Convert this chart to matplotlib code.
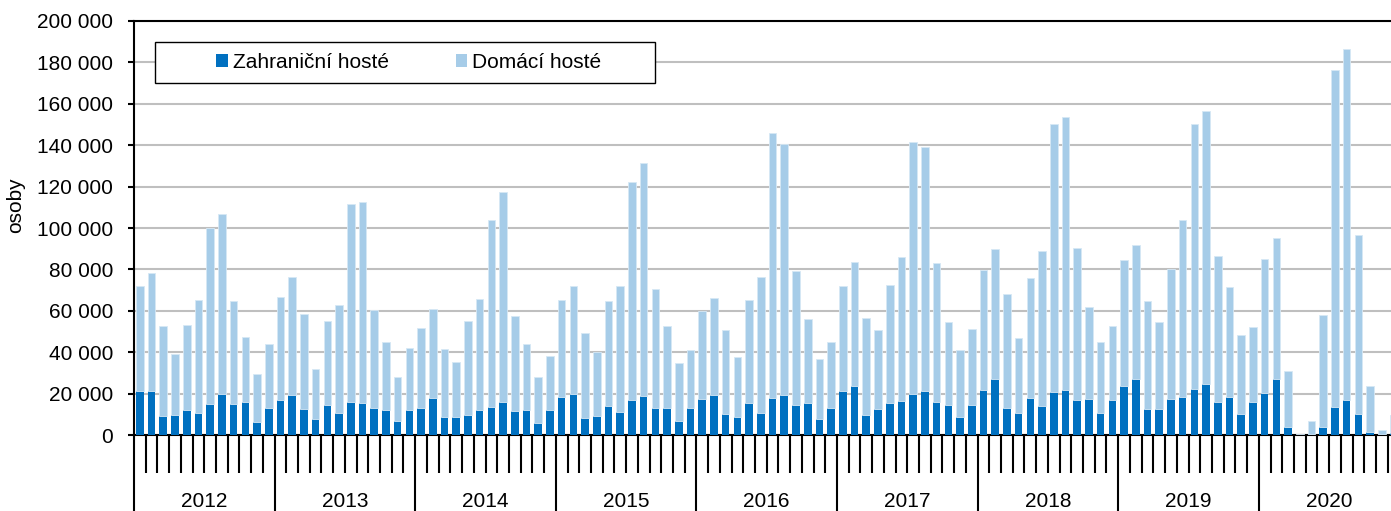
import numpy as np
import matplotlib.pyplot as plt
from matplotlib.patches import Rectangle
from matplotlib.transforms import blended_transform_factory

plt.rcParams['font.family'] = ['Liberation Sans', 'DejaVu Sans']

years = ['2012', '2013', '2014', '2015', '2016', '2017', '2018', '2019', '2020']

# zahraniční hosté (osoby), měsíčně leden 2012 - prosinec 2020
zahranicni = [
    21200, 21200, 9200, 9700, 12100, 10600, 15000, 19800, 14800, 15900, 6100, 13000,
    16900, 19300, 12700, 7900, 14500, 10800, 15900, 15600, 12900, 12100, 6800, 12100,
    12900, 17900, 8700, 8700, 9700, 12100, 13400, 16100, 11600, 12100, 5800, 11900,
    18300, 19800, 8000, 9200, 14000, 11300, 17100, 18800, 12900, 13200, 6600, 13200,
    17200, 19100, 10100, 8500, 15400, 10800, 17700, 19100, 14300, 15300, 7600, 13200,
    21100, 23500, 9700, 12400, 15300, 16400, 19600, 21100, 15800, 14300, 8700, 14500,
    21600, 26900, 13000, 10800, 17700, 14200, 20900, 21900, 16700, 17400, 10500, 16700,
    23800, 26900, 12400, 12600, 17200, 18400, 22400, 24500, 15800, 18400, 10000, 15800,
    20100, 26900, 3700, 200, 400, 3700, 13700, 16900, 10000, 1300, 300, 1000,
]

# hosté celkem (vrchol sloupce)
celkem = [
    72200, 78200, 52500, 39300, 52900, 65200, 100100, 107000, 64700, 47300, 29400, 44200,
    66900, 76400, 58400, 31900, 55000, 62900, 111800, 112600, 60300, 45100, 28000, 41800,
    51500, 60800, 41700, 35400, 55000, 65500, 103900, 117300, 57400, 43900, 27800, 38300,
    65200, 72200, 49200, 40200, 64800, 72100, 122400, 131500, 70600, 52800, 34900, 41200,
    59900, 66100, 50500, 37800, 65300, 76400, 145800, 140600, 79000, 56000, 36800, 45100,
    72200, 83700, 56500, 50500, 72700, 86100, 141400, 139200, 82900, 54500, 40900, 51300,
    79500, 89800, 67900, 46700, 75700, 89000, 150400, 153600, 90200, 62000, 44900, 52800,
    84500, 91900, 64900, 54700, 80300, 103700, 150200, 156700, 86500, 71600, 48100, 52300,
    84800, 95300, 30900, 300, 6600, 58000, 176300, 186400, 96400, 23500, 2300, 9500,
]

domaci = [c - z for c, z in zip(celkem, zahranicni)]

c_zahr = '#0070C0'
c_dom = '#A6CCE8'

fig = plt.figure(figsize=(13.91, 5.11), dpi=100)
ax = fig.add_axes([134 / 1391, 76 / 511, 1265.4 / 1391, 414 / 511])

x = np.arange(len(celkem))
ax.bar(x, zahranicni, width=0.65, color=c_zahr, label='Zahraniční hosté', zorder=3)
ax.bar(x, domaci, width=0.65, bottom=zahranicni, color=c_dom, label='Domácí hosté',
       edgecolor='#D6E8F5', linewidth=0.6, zorder=3)

ax.set_xlim(-0.5, len(celkem) - 0.5)
ax.set_ylim(0, 200000)
yt = np.arange(0, 200001, 20000)
ax.set_yticks(yt)
ax.set_yticklabels([f'{v:,}'.replace(',', ' ') for v in yt], fontsize=15)
ax.yaxis.grid(True, color='#BFBFBF', linewidth=1.5, zorder=0)
ax.tick_params(axis='y', length=4, width=1.5, pad=11)

# kategorie: měsíce (krátké čárky) a roky (dlouhé čáry)
year_edges = np.arange(-0.5, len(celkem), 12)
month_edges = [e for e in np.arange(-0.5, len(celkem), 1) if e not in year_edges]
ax.set_xticks(year_edges)
ax.set_xticklabels([])
ax.set_xticks(month_edges, minor=True)
ax.tick_params(axis='x', which='major', length=60, width=1.5, color='black')
ax.tick_params(axis='x', which='minor', length=27, width=1.5, color='black')

trans = blended_transform_factory(ax.transData, ax.transAxes)
for k, yr in enumerate(years):
    ax.text(k * 12 + 5.5, -0.16, yr, transform=trans, ha='center', va='center', fontsize=15)

for side in ['left', 'bottom', 'top', 'right']:
    ax.spines[side].set_color('black')
    ax.spines[side].set_linewidth(1.5)

ax.set_ylabel('osoby', fontsize=15)
ax.yaxis.set_label_coords((25 - 134) / 1265.4, (435 - 205.5) / 414)

# rámeček legendy
box = Rectangle((155 / 1391, 428 / 511), 500 / 1391, 41 / 511, transform=fig.transFigure,
                facecolor='white', edgecolor='black', linewidth=1.0, zorder=4, clip_on=False)
ax.add_patch(box)
leg = ax.legend(loc='center', bbox_to_anchor=(409 / 1391, (511 - 62.5) / 511),
                bbox_transform=fig.transFigure, ncol=2, frameon=False, fontsize=15,
                handlelength=0.55, handleheight=0.55, handletextpad=0.25, columnspacing=3.2)
leg.set_zorder(5)
for p in leg.get_patches():
    p.set_edgecolor('none')

fig.savefig('out.png', dpi=100)
